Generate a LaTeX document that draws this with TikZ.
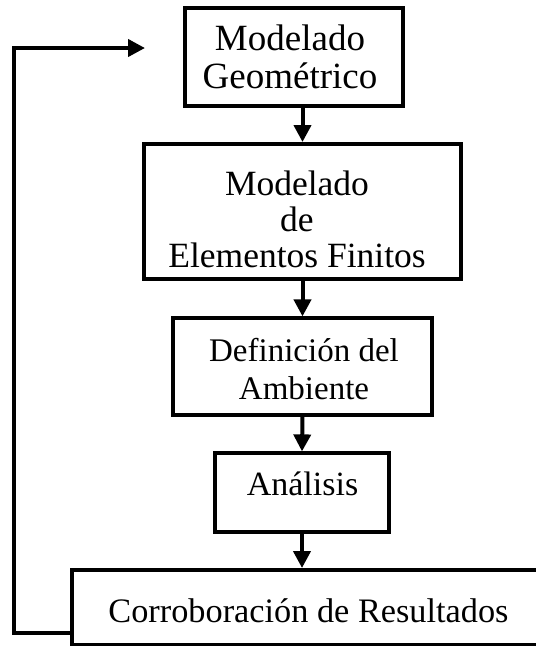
\documentclass[tikz,border=0pt]{standalone}
\usepackage{fontspec}
\setmainfont{Liberation Serif}
\usetikzlibrary{arrows.meta}
\begin{document}
\begin{tikzpicture}[x=1pt,y=1pt,
  box/.style={draw=black,line width=4pt,fill=none,inner sep=0pt},
  thinbox/.style={draw=black,line width=3.2pt,fill=none,inner sep=0pt},
  txt/.style={inner sep=0pt,align=center,text=black},
  arr/.style={draw=black,line width=4pt,-{Triangle[length=17pt,width=17pt]}}]
\useasboundingbox (0,0) rectangle (536,-646);
\clip (0,0) rectangle (536,-646);
\fill[white] (0,0) rectangle (536,-646);
% boxes
\node[box,minimum width=218pt,minimum height=98pt] (b1) at (294,-57) {};
\node[box,minimum width=317pt,minimum height=135pt] (b2) at (302.5,-211.5) {};
\node[thinbox,minimum width=259pt,minimum height=97pt] (b3) at (302.5,-366.5) {};
\node[thinbox,minimum width=174pt,minimum height=79pt] (b4) at (302,-492.5) {};
\node[box,minimum width=473pt,minimum height=75pt] (b5) at (308.5,-607.5) {};
% texts
\node[txt,font=\fontsize{37}{38}\selectfont] (t1) at (290,-57) {Modelado\\Geométrico};
\node[txt,font=\fontsize{35.5}{36}\selectfont] (t2) at (297,-219.5) {Modelado\\de\\Elementos Finitos};
\node[txt,font=\fontsize{33}{38}\selectfont] (t3) at (304,-369.5) {Definición del\\Ambiente};
\node[txt,font=\fontsize{34}{36}\selectfont] (t4) at (302.5,-483.5) {Análisis};
\node[txt,font=\fontsize{34.3}{36}\selectfont] (t5) at (308.5,-610.5) {Corroboración de Resultados};
% connectors
\draw[arr] (b1.south -| b2.north) -- (b2.north);
\draw[arr] (b2.south) -- (b3.north);
\draw[arr] (b3.south) -- (b4.north);
\draw[arr] (b4.south) -- (b4.south |- b5.north);
% feedback
\coordinate (c1) at (14,-633);
\coordinate (c2) at (14,-48);
\coordinate (ret) at (145,-48);
\draw[arr] (b5.west |- c1) -- (c1) -- (c2) -- (ret);
\end{tikzpicture}
\end{document}
